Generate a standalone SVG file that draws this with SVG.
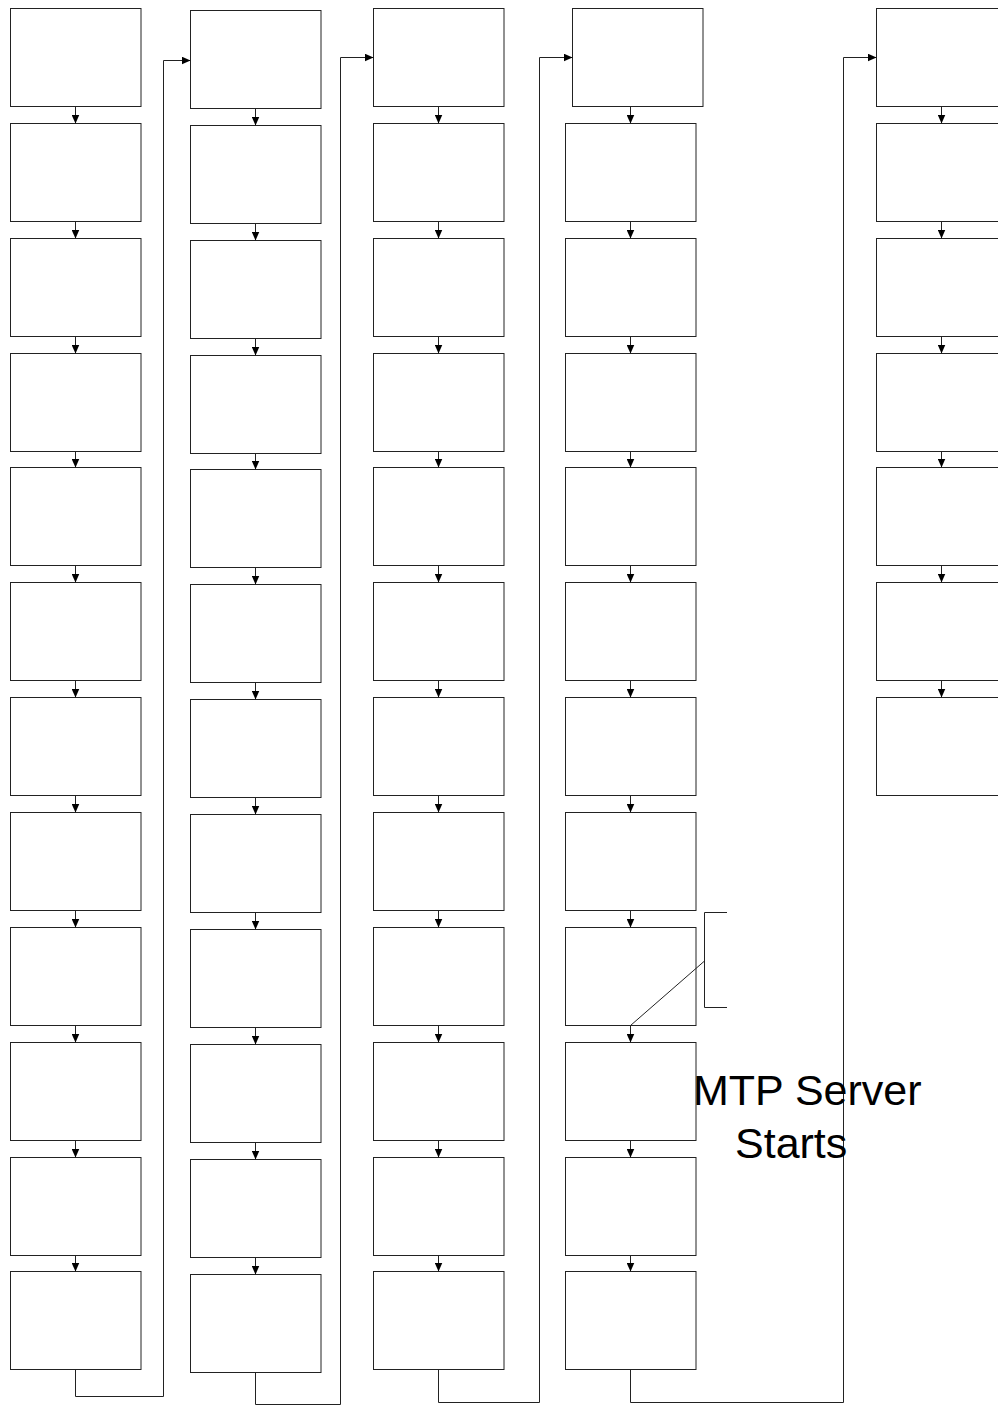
<svg xmlns="http://www.w3.org/2000/svg" width="998" height="1406" viewBox="0 0 998 1406">
<style>
.box{fill:#fff;stroke:#222;stroke-width:1}
.c{fill:none;stroke:#222;stroke-width:1}
.lbl{font-family:"Liberation Sans",Arial,sans-serif;font-size:43px;fill:#000}
</style>
<defs>
<marker id="ah" markerUnits="userSpaceOnUse" viewBox="0 0 9 8" refX="9" refY="4" markerWidth="9" markerHeight="8" orient="auto">
<path d="M0,0 L9,4 L0,8 z" fill="#000"/>
</marker>
</defs>
<rect width="998" height="1406" fill="#fff"/>
<g id="col1">
<g id="n1_1"><rect class="box" x="10.5" y="8.5" width="130.5" height="98"/></g>
<g id="n1_2"><rect class="box" x="10.5" y="123.5" width="130.5" height="98"/></g>
<g id="n1_3"><rect class="box" x="10.5" y="238.5" width="130.5" height="98"/></g>
<g id="n1_4"><rect class="box" x="10.5" y="353.5" width="130.5" height="98"/></g>
<g id="n1_5"><rect class="box" x="10.5" y="467.5" width="130.5" height="98"/></g>
<g id="n1_6"><rect class="box" x="10.5" y="582.5" width="130.5" height="98"/></g>
<g id="n1_7"><rect class="box" x="10.5" y="697.5" width="130.5" height="98"/></g>
<g id="n1_8"><rect class="box" x="10.5" y="812.5" width="130.5" height="98"/></g>
<g id="n1_9"><rect class="box" x="10.5" y="927.5" width="130.5" height="98"/></g>
<g id="n1_10"><rect class="box" x="10.5" y="1042.5" width="130.5" height="98"/></g>
<g id="n1_11"><rect class="box" x="10.5" y="1157.5" width="130.5" height="98"/></g>
<g id="n1_12"><rect class="box" x="10.5" y="1271.5" width="130.5" height="98"/></g>
</g>
<g id="col2">
<g id="n2_1"><rect class="box" x="190.5" y="10.5" width="130.5" height="98"/></g>
<g id="n2_2"><rect class="box" x="190.5" y="125.5" width="130.5" height="98"/></g>
<g id="n2_3"><rect class="box" x="190.5" y="240.5" width="130.5" height="98"/></g>
<g id="n2_4"><rect class="box" x="190.5" y="355.5" width="130.5" height="98"/></g>
<g id="n2_5"><rect class="box" x="190.5" y="469.5" width="130.5" height="98"/></g>
<g id="n2_6"><rect class="box" x="190.5" y="584.5" width="130.5" height="98"/></g>
<g id="n2_7"><rect class="box" x="190.5" y="699.5" width="130.5" height="98"/></g>
<g id="n2_8"><rect class="box" x="190.5" y="814.5" width="130.5" height="98"/></g>
<g id="n2_9"><rect class="box" x="190.5" y="929.5" width="130.5" height="98"/></g>
<g id="n2_10"><rect class="box" x="190.5" y="1044.5" width="130.5" height="98"/></g>
<g id="n2_11"><rect class="box" x="190.5" y="1159.5" width="130.5" height="98"/></g>
<g id="n2_12"><rect class="box" x="190.5" y="1274.5" width="130.5" height="98"/></g>
</g>
<g id="col3">
<g id="n3_1"><rect class="box" x="373.5" y="8.5" width="130.5" height="98"/></g>
<g id="n3_2"><rect class="box" x="373.5" y="123.5" width="130.5" height="98"/></g>
<g id="n3_3"><rect class="box" x="373.5" y="238.5" width="130.5" height="98"/></g>
<g id="n3_4"><rect class="box" x="373.5" y="353.5" width="130.5" height="98"/></g>
<g id="n3_5"><rect class="box" x="373.5" y="467.5" width="130.5" height="98"/></g>
<g id="n3_6"><rect class="box" x="373.5" y="582.5" width="130.5" height="98"/></g>
<g id="n3_7"><rect class="box" x="373.5" y="697.5" width="130.5" height="98"/></g>
<g id="n3_8"><rect class="box" x="373.5" y="812.5" width="130.5" height="98"/></g>
<g id="n3_9"><rect class="box" x="373.5" y="927.5" width="130.5" height="98"/></g>
<g id="n3_10"><rect class="box" x="373.5" y="1042.5" width="130.5" height="98"/></g>
<g id="n3_11"><rect class="box" x="373.5" y="1157.5" width="130.5" height="98"/></g>
<g id="n3_12"><rect class="box" x="373.5" y="1271.5" width="130.5" height="98"/></g>
</g>
<g id="col4">
<g id="n4_1"><rect class="box" x="572.5" y="8.5" width="130.5" height="98"/></g>
<g id="n4_2"><rect class="box" x="565.5" y="123.5" width="130.5" height="98"/></g>
<g id="n4_3"><rect class="box" x="565.5" y="238.5" width="130.5" height="98"/></g>
<g id="n4_4"><rect class="box" x="565.5" y="353.5" width="130.5" height="98"/></g>
<g id="n4_5"><rect class="box" x="565.5" y="467.5" width="130.5" height="98"/></g>
<g id="n4_6"><rect class="box" x="565.5" y="582.5" width="130.5" height="98"/></g>
<g id="n4_7"><rect class="box" x="565.5" y="697.5" width="130.5" height="98"/></g>
<g id="n4_8"><rect class="box" x="565.5" y="812.5" width="130.5" height="98"/></g>
<g id="n4_9"><rect class="box" x="565.5" y="927.5" width="130.5" height="98"/></g>
<g id="n4_10"><rect class="box" x="565.5" y="1042.5" width="130.5" height="98"/></g>
<g id="n4_11"><rect class="box" x="565.5" y="1157.5" width="130.5" height="98"/></g>
<g id="n4_12"><rect class="box" x="565.5" y="1271.5" width="130.5" height="98"/></g>
</g>
<g id="col5">
<g id="n5_1"><rect class="box" x="876.5" y="8.5" width="131" height="98"/></g>
<g id="n5_2"><rect class="box" x="876.5" y="123.5" width="131" height="98"/></g>
<g id="n5_3"><rect class="box" x="876.5" y="238.5" width="131" height="98"/></g>
<g id="n5_4"><rect class="box" x="876.5" y="353.5" width="131" height="98"/></g>
<g id="n5_5"><rect class="box" x="876.5" y="467.5" width="131" height="98"/></g>
<g id="n5_6"><rect class="box" x="876.5" y="582.5" width="131" height="98"/></g>
<g id="n5_7"><rect class="box" x="876.5" y="697.5" width="131" height="98"/></g>
</g>
<g id="connectors">
<path class="c" marker-end="url(#ah)" d="M75.5,106.5 V123.5"/>
<path class="c" marker-end="url(#ah)" d="M75.5,221.5 V238.5"/>
<path class="c" marker-end="url(#ah)" d="M75.5,336.5 V353.5"/>
<path class="c" marker-end="url(#ah)" d="M75.5,451.5 V467.5"/>
<path class="c" marker-end="url(#ah)" d="M75.5,565.5 V582.5"/>
<path class="c" marker-end="url(#ah)" d="M75.5,680.5 V697.5"/>
<path class="c" marker-end="url(#ah)" d="M75.5,795.5 V812.5"/>
<path class="c" marker-end="url(#ah)" d="M75.5,910.5 V927.5"/>
<path class="c" marker-end="url(#ah)" d="M75.5,1025.5 V1042.5"/>
<path class="c" marker-end="url(#ah)" d="M75.5,1140.5 V1157.5"/>
<path class="c" marker-end="url(#ah)" d="M75.5,1255.5 V1271.5"/>
<path class="c" marker-end="url(#ah)" d="M75.5,1369.5 V1396.5 H163.5 V60.5 H190.5"/>
<path class="c" marker-end="url(#ah)" d="M255.5,108.5 V125.5"/>
<path class="c" marker-end="url(#ah)" d="M255.5,223.5 V240.5"/>
<path class="c" marker-end="url(#ah)" d="M255.5,338.5 V355.5"/>
<path class="c" marker-end="url(#ah)" d="M255.5,453.5 V469.5"/>
<path class="c" marker-end="url(#ah)" d="M255.5,567.5 V584.5"/>
<path class="c" marker-end="url(#ah)" d="M255.5,682.5 V699.5"/>
<path class="c" marker-end="url(#ah)" d="M255.5,797.5 V814.5"/>
<path class="c" marker-end="url(#ah)" d="M255.5,912.5 V929.5"/>
<path class="c" marker-end="url(#ah)" d="M255.5,1027.5 V1044.5"/>
<path class="c" marker-end="url(#ah)" d="M255.5,1142.5 V1159.5"/>
<path class="c" marker-end="url(#ah)" d="M255.5,1257.5 V1274.5"/>
<path class="c" marker-end="url(#ah)" d="M255.5,1372.5 V1404.5 H340.5 V57.5 H373.5"/>
<path class="c" marker-end="url(#ah)" d="M438.5,106.5 V123.5"/>
<path class="c" marker-end="url(#ah)" d="M438.5,221.5 V238.5"/>
<path class="c" marker-end="url(#ah)" d="M438.5,336.5 V353.5"/>
<path class="c" marker-end="url(#ah)" d="M438.5,451.5 V467.5"/>
<path class="c" marker-end="url(#ah)" d="M438.5,565.5 V582.5"/>
<path class="c" marker-end="url(#ah)" d="M438.5,680.5 V697.5"/>
<path class="c" marker-end="url(#ah)" d="M438.5,795.5 V812.5"/>
<path class="c" marker-end="url(#ah)" d="M438.5,910.5 V927.5"/>
<path class="c" marker-end="url(#ah)" d="M438.5,1025.5 V1042.5"/>
<path class="c" marker-end="url(#ah)" d="M438.5,1140.5 V1157.5"/>
<path class="c" marker-end="url(#ah)" d="M438.5,1255.5 V1271.5"/>
<path class="c" marker-end="url(#ah)" d="M438.5,1369.5 V1402.5 H539.5 V57.5 H572.5"/>
<path class="c" marker-end="url(#ah)" d="M630.5,106.5 V123.5"/>
<path class="c" marker-end="url(#ah)" d="M630.5,221.5 V238.5"/>
<path class="c" marker-end="url(#ah)" d="M630.5,336.5 V353.5"/>
<path class="c" marker-end="url(#ah)" d="M630.5,451.5 V467.5"/>
<path class="c" marker-end="url(#ah)" d="M630.5,565.5 V582.5"/>
<path class="c" marker-end="url(#ah)" d="M630.5,680.5 V697.5"/>
<path class="c" marker-end="url(#ah)" d="M630.5,795.5 V812.5"/>
<path class="c" marker-end="url(#ah)" d="M630.5,910.5 V927.5"/>
<path class="c" marker-end="url(#ah)" d="M630.5,1025.5 V1042.5"/>
<path class="c" marker-end="url(#ah)" d="M630.5,1140.5 V1157.5"/>
<path class="c" marker-end="url(#ah)" d="M630.5,1255.5 V1271.5"/>
<path class="c" marker-end="url(#ah)" d="M630.5,1369.5 V1402.5 H843.5 V57.5 H876.5"/>
<path class="c" marker-end="url(#ah)" d="M941.5,106.5 V123.5"/>
<path class="c" marker-end="url(#ah)" d="M941.5,221.5 V238.5"/>
<path class="c" marker-end="url(#ah)" d="M941.5,336.5 V353.5"/>
<path class="c" marker-end="url(#ah)" d="M941.5,451.5 V467.5"/>
<path class="c" marker-end="url(#ah)" d="M941.5,565.5 V582.5"/>
<path class="c" marker-end="url(#ah)" d="M941.5,680.5 V697.5"/>
</g>
<g id="annotation">
<path class="c" d="M727,912.5 H704.5 V1007.5 H727"/>
<path class="c" d="M704.5,961 L630.5,1025.5"/>
<text class="lbl" x="693" y="1105">MTP Server</text>
<text class="lbl" x="735" y="1158">Starts</text>
</g>
</svg>
